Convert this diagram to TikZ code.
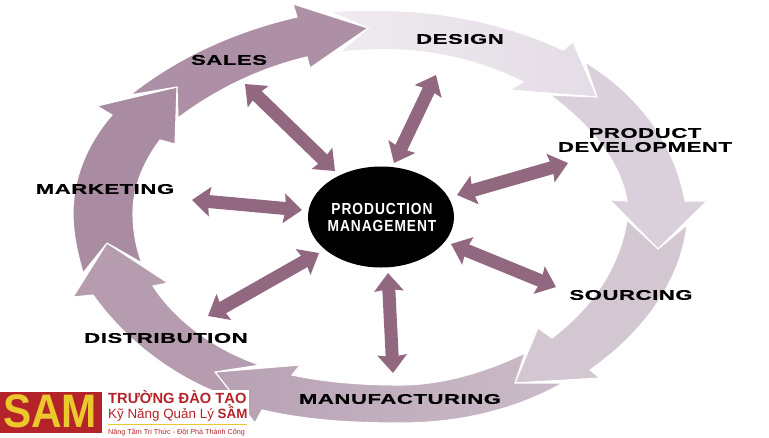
\documentclass[tikz,border=0pt]{standalone}
\usepackage{fontspec}
\setmainfont{Liberation Sans}
\newfontfamily\widef[FakeStretch=1.58,LetterSpace=4,FakeBold=0.6]{Liberation Sans Bold}
\newfontfamily\narrowf[FakeStretch=0.86,LetterSpace=6]{Liberation Sans Bold}
\newfontfamily\samf[FakeStretch=0.9]{Liberation Sans Bold}
\usetikzlibrary{arrows.meta,shapes.geometric}
\definecolor{dbl}{HTML}{916880}
\definecolor{logored}{HTML}{B5232A}
\definecolor{logoyel}{HTML}{EBC82B}
\definecolor{cdesignA}{HTML}{F0EBF0}
\definecolor{cdesignB}{HTML}{E4DCE6}
\definecolor{cdev}{HTML}{DAD0DB}
\definecolor{csrc}{HTML}{D3C7D2}
\definecolor{cmanA}{HTML}{B7A1B3}
\definecolor{cmanB}{HTML}{CBBCC9}
\definecolor{cdist}{HTML}{B59DAF}
\definecolor{cmark}{HTML}{A98CA1}
\definecolor{csales}{HTML}{AD90A6}
\tikzset{
  seg/.style={draw=white,line width=1.1pt,line join=miter},
  dblarrow/.style={draw=dbl,line width=13pt,{Stealth[length=18pt,width=29pt,inset=2pt]}-{Stealth[length=18pt,width=29pt,inset=2pt]}},
  lab/.style={font=\widef\fontsize{14}{14}\selectfont,text=black,inner sep=0pt,align=center},
  logotxt/.style={inner sep=0pt,anchor=west,text=logored}
}
\begin{document}
\begin{tikzpicture}[x=1pt,y=-1pt]
\useasboundingbox (0,0) rectangle (769,437);
\fill[white] (0,0) rectangle (769,437);
% ring
\path[seg,left color=cdesignA,right color=cdesignB] (597,97) -- (573,42) -- (563,50) .. controls (510,25) and (450,13) .. (400,11) .. controls (375,10) and (350,10) .. (330,12) -- (368,28) -- (340,52) .. controls (360,50) and (380,49) .. (400,50) .. controls (445,52) and (490,65) .. (523,82) -- (510,90) -- cycle;
\path[seg,fill=cdev] (658,249) -- (707,201) -- (685,201) .. controls (675,145) and (640,95) .. (585,62) -- (597,97) -- (550,95) .. controls (590,125) and (620,160) .. (627,201) -- (610,200) -- cycle;
\path[seg,fill=csrc] (515,383) -- (538,328) -- (552,338) .. controls (595,305) and (620,265) .. (627,220) -- (658,249) -- (687,225) .. controls (680,285) and (640,335) .. (590,370) -- (600,378) -- cycle;
\path[seg,left color=cmanA,right color=cmanB] (215,372) -- (300,365) -- (292,375) .. controls (325,382) and (360,385) .. (400,385) .. controls (445,385) and (490,370) .. (525,353) -- (515,383) -- (563,383) .. controls (515,410) and (460,423) .. (400,423) .. controls (350,423) and (305,420) .. (262,410) -- (255,423) -- cycle;
\path[seg,fill=cdist] (107,243) -- (168,283) -- (153,286) .. controls (175,320) and (215,350) .. (260,365) -- (215,372) -- (237,400) .. controls (175,380) and (125,340) .. (93,295) -- (73,297) -- cycle;
\path[seg,fill=cmark] (177,87) -- (97,106) -- (112,115) .. controls (90,140) and (73,175) .. (73,213) .. controls (73,235) and (78,255) .. (83,273) -- (107,243) -- (142,263) .. controls (136,248) and (133,230) .. (133,213) .. controls (133,185) and (145,160) .. (160,140) -- (175,144) -- cycle;
\path[seg,fill=csales] (130,95) .. controls (180,55) and (240,30) .. (297,17) -- (293,4) -- (368,28) -- (310,68) -- (307,57) .. controls (260,68) and (215,90) .. (178,118) -- (177,87) -- cycle;
% centre
\node[fill=black,ellipse,minimum width=146pt,minimum height=101pt,inner sep=0pt] (pm) at (381,217) {};
\node[font=\narrowf\fontsize{16}{17}\selectfont,text=white,align=center,inner sep=0pt] (pmtext) at (382,217) {PRODUCTION\\MANAGEMENT};
% labels
\node[lab] (sales) at (229,60) {SALES};
\node[lab] (design) at (460,39) {DESIGN};
\node[lab] (prod) at (645,140) {PRODUCT\\DEVELOPMENT};
\node[lab] (mark) at (105,189) {MARKETING};
\node[lab] (sourc) at (631,295) {SOURCING};
\node[lab] (manu) at (400,399) {MANUFACTURING};
\node[lab] (dist) at (166,338) {DISTRIBUTION};
% connector ends
\coordinate (a1) at (245,84);  \coordinate (b1) at (335,171);
\coordinate (a2) at (192,200); \coordinate (b2) at (302,210);
\coordinate (a3) at (436,75);  \coordinate (b3) at (394,163);
\coordinate (a4) at (568,163); \coordinate (b4) at (457,195);
\coordinate (a5) at (556,287); \coordinate (b5) at (451,244);
\coordinate (a6) at (393,373); \coordinate (b6) at (388,273);
\coordinate (a7) at (208,316); \coordinate (b7) at (319,253);
\foreach \i in {1,...,7} \draw[dblarrow] (a\i) -- (b\i);
% logo
\fill[white] (102,390) rectangle (249,437);
\node[fill=logored,minimum width=102pt,minimum height=41pt,inner sep=0pt,anchor=north west] (logo) at (0,392) {};
\node[font=\samf\fontsize{47}{47}\selectfont,text=logoyel,inner sep=0pt] (sam) at (50,411.5) {SAM};
\node[logotxt,font=\bfseries\fontsize{14.7}{15}\selectfont] (l1) at (108,398) {TRƯỜNG ĐÀO TẠO};
\node[logotxt,font=\fontsize{13.4}{14}\selectfont] (l2) at (108,414) {Kỹ Năng Quản Lý \textbf{SÂM}};
\draw[logoyel,line width=1pt] (108,424.5) -- (247,424.5);
\node[logotxt,font=\fontsize{7.2}{8}\selectfont] (l3) at (108,432) {Nâng Tầm Tri Thức - Đột Phá Thành Công};
\end{tikzpicture}
\end{document}
